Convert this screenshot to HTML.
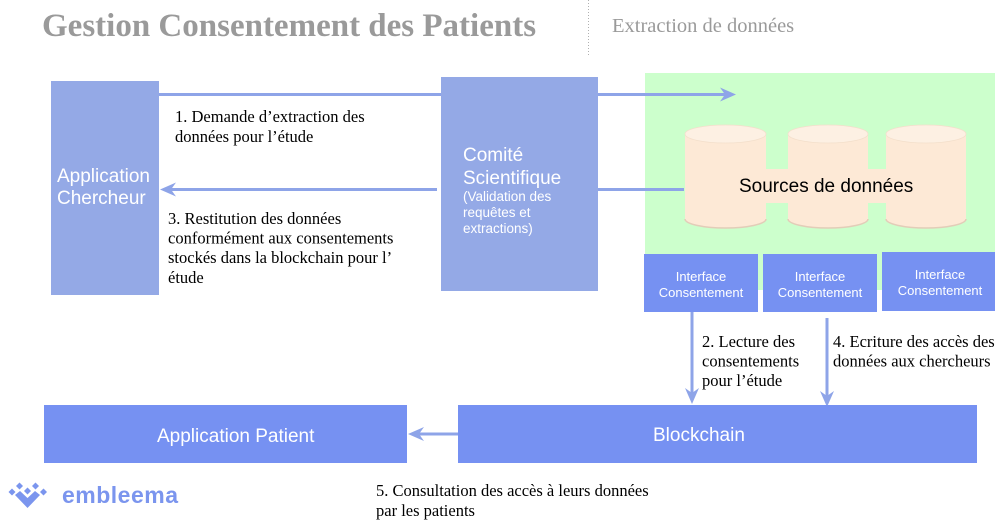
<!DOCTYPE html>
<html><head><meta charset="utf-8"><style>
html,body{margin:0;padding:0;background:#fff;}
svg{display:block;}
</style></head><body>
<svg width="995" height="524" viewBox="0 0 995 524" xmlns="http://www.w3.org/2000/svg">
<rect width="995" height="524" fill="#fff"/>
<!-- Title -->
<text x="42" y="36" font-family="Liberation Serif, serif" font-weight="bold" font-size="33" fill="#9a9a9a">Gestion Consentement des Patients</text>
<line x1="588.5" y1="0" x2="588.5" y2="57" stroke="#b0b0b0" stroke-width="1" stroke-dasharray="1,2"/>
<text x="612" y="32" font-family="Liberation Serif, serif" font-size="20.5" fill="#9a9a9a">Extraction de données</text>

<!-- green zone -->
<rect x="645" y="73" width="350" height="217" fill="#ccffcc"/>

<!-- arrows -->
<g stroke="#8ea4e8" stroke-width="3" fill="none">
  <line x1="159" y1="94.5" x2="441" y2="94.5"/>
  <line x1="598" y1="94.5" x2="728" y2="94.5"/>
  <line x1="598" y1="189.5" x2="684" y2="189.5"/>
  <line x1="168" y1="189.5" x2="437" y2="189.5"/>
  <line x1="692" y1="312" x2="692" y2="396"/>
  <line x1="827" y1="318" x2="827" y2="399"/>
  <line x1="416" y1="434" x2="458" y2="434"/>
</g>
<g fill="#8ea4e8">
  <path d="M736,94.5 L720,87.5 L725,94.5 L720,101.5 Z"/>
  <path d="M160,189.5 L176,182.5 L171,189.5 L176,196.5 Z"/>
  <path d="M692,404 L685,388 L692,393 L699,388 Z"/>
  <path d="M827,407 L820,391 L827,396 L834,391 Z"/>
  <path d="M408,434 L424,427 L419,434 L424,441 Z"/>
</g>

<!-- Application Chercheur -->
<rect x="51" y="81" width="108" height="214" fill="#94a9e6"/>
<text font-family="Liberation Sans, sans-serif" font-size="19" fill="#fff"><tspan x="57" y="182">Application</tspan><tspan x="57" y="204">Chercheur</tspan></text>

<!-- Comite -->
<rect x="441" y="77" width="157" height="214" fill="#94a9e6"/>
<text font-family="Liberation Sans, sans-serif" font-size="19" fill="#fff"><tspan x="463" y="161">Comité</tspan><tspan x="463" y="184">Scientifique</tspan></text>
<text font-family="Liberation Sans, sans-serif" font-size="13.5" fill="#fff"><tspan x="463" y="201">(Validation des</tspan><tspan x="463" y="217">requêtes et</tspan><tspan x="463" y="233">extractions)</tspan></text>

<!-- cylinders -->
<g>
  <rect x="760" y="169" width="132" height="34" fill="#fde9d6"/>
  <g>
    <path d="M685,134 L685,219 A40.5,9 0 0 0 766,219 L766,134 Z" fill="#fde9d6"/>
    <path d="M685,219 A40.5,9 0 0 0 766,219" fill="none" stroke="#e2cdb8" stroke-width="1.5"/>
    <ellipse cx="725.5" cy="134" rx="40.5" ry="9" fill="#fdf0e3" stroke="#f3dfcb" stroke-width="0.8"/>
  </g>
  <g>
    <path d="M788,134 L788,219 A40,9 0 0 0 868,219 L868,134 Z" fill="#fde9d6"/>
    <path d="M788,219 A40,9 0 0 0 868,219" fill="none" stroke="#e2cdb8" stroke-width="1.5"/>
    <ellipse cx="828" cy="134" rx="40" ry="9" fill="#fdf0e3" stroke="#f3dfcb" stroke-width="0.8"/>
  </g>
  <g>
    <path d="M886,134 L886,219 A40,9 0 0 0 966,219 L966,134 Z" fill="#fde9d6"/>
    <path d="M886,219 A40,9 0 0 0 966,219" fill="none" stroke="#e2cdb8" stroke-width="1.5"/>
    <ellipse cx="926" cy="134" rx="40" ry="9" fill="#fdf0e3" stroke="#f3dfcb" stroke-width="0.8"/>
  </g>
  <rect x="764" y="169" width="26" height="34" fill="#fde9d6"/>
  <rect x="866" y="169" width="22" height="34" fill="#fde9d6"/>
</g>
<text x="739" y="192" font-family="Liberation Sans, sans-serif" font-size="19" fill="#000">Sources de données</text>

<!-- interface boxes -->
<rect x="644" y="254" width="114" height="58" fill="#7691f2"/>
<rect x="763" y="254" width="114" height="58" fill="#7691f2"/>
<rect x="882" y="252" width="113" height="59" fill="#7691f2"/>
<g font-family="Liberation Sans, sans-serif" font-size="13" fill="#fff" text-anchor="middle">
  <text x="701" y="281">Interface</text><text x="701" y="297">Consentement</text>
  <text x="820" y="281">Interface</text><text x="820" y="297">Consentement</text>
  <text x="940" y="279">Interface</text><text x="940" y="295">Consentement</text>
</g>

<!-- bottom boxes -->
<rect x="44" y="405" width="363" height="58" fill="#7691f2"/>
<text x="157" y="442" font-family="Liberation Sans, sans-serif" font-size="19" fill="#fff">Application Patient</text>
<rect x="458" y="405" width="519" height="58" fill="#7691f2"/>
<text x="653" y="441" font-family="Liberation Sans, sans-serif" font-size="19" fill="#fff">Blockchain</text>

<!-- labels -->
<g font-family="Liberation Serif, serif" font-size="16.5" fill="#000">
  <text><tspan x="175" y="122">1. Demande d’extraction des</tspan><tspan x="175" y="142">données pour l’étude</tspan></text>
  <text><tspan x="168" y="224">3. Restitution des données</tspan><tspan x="168" y="243.5">conformément aux consentements</tspan><tspan x="168" y="263">stockés dans la blockchain pour l’</tspan><tspan x="168" y="283">étude</tspan></text>
  <text><tspan x="702" y="347">2. Lecture des</tspan><tspan x="702" y="366.5">consentements</tspan><tspan x="702" y="386">pour l’étude</tspan></text>
  <text><tspan x="833" y="347">4. Ecriture des accès des</tspan><tspan x="833" y="366.5">données aux chercheurs</tspan></text>
  <text><tspan x="376" y="496">5. Consultation des accès à leurs données</tspan><tspan x="376" y="516">par les patients</tspan></text>
</g>

<!-- logo -->
<g fill="#7b95ee">
  <path d="M12,488.5 L15.5,492 L12,495.5 L8.5,492 Z"/>
  <path d="M19.5,482.5 L23,486 L19.5,489.5 L16,486 Z"/>
  <path d="M27.5,487.5 L31,491 L27.5,494.5 L24,491 Z"/>
  <path d="M35.5,482.5 L39,486 L35.5,489.5 L32,486 Z"/>
  <path d="M43.5,488.5 L47,492 L43.5,495.5 L40,492 Z"/>
  <path d="M15,495 L20,491 L27.5,498 L35,491 L40,495 L27.5,508 Z"/>
</g>
<text x="62" y="503" font-family="Liberation Sans, sans-serif" font-weight="bold" font-size="23" letter-spacing="0.5" fill="#7b95ee">embleema</text>
</svg>
</body></html>
